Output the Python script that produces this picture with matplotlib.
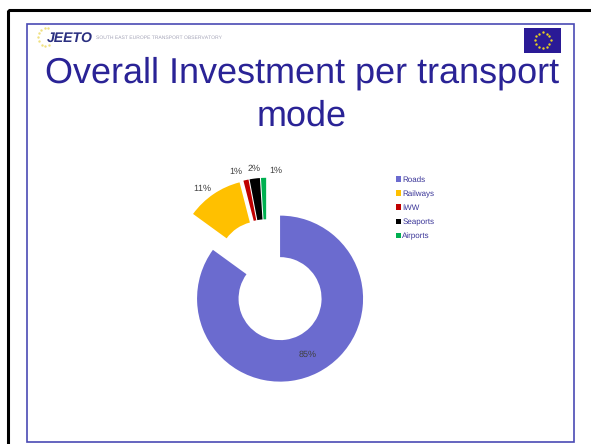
import numpy as np
import matplotlib
matplotlib.use("Agg")
import matplotlib.pyplot as plt
from matplotlib.patches import Rectangle

plt.rcParams['font.family'] = ['Liberation Sans', 'DejaVu Sans']
plt.rcParams['text.hinting'] = 'no_hinting'
plt.rcParams['text.hinting_factor'] = 1

# chart values
modes = ["Roads", "Railways", "IWW", "Seaports", "Airports"]
shares = [85, 11, 1, 2, 1]
share_labels = ["85%", "11%", "1%", "2%", "1%"]
colors = ["#6B6BCF", "#FFC000", "#C00000", "#000000", "#00B050"]
explode = [0.36, 0.135, 0.135, 0.135, 0.135]

title_lines = "Overall Investment per transport\nmode"
text_blue = "#2A2396"

W, H = 591, 444
fig = plt.figure(figsize=(W / 100, H / 100), dpi=100)

# page background in pixel coordinates
bg = fig.add_axes([0, 0, 1, 1])
bg.set_xlim(0, W)
bg.set_ylim(H, 0)
bg.axis("off")

# black outer frame, runs off the right and bottom edge
bg.add_patch(Rectangle((8, 10), W, H, fill=False, ec="black", lw=2.2))
# blue slide frame
bg.add_patch(Rectangle((26.5, 24), 547, 418, fill=False, ec="#4A4AB4", lw=1.2))

# logo
bg.text(47, 38, "JEETO", fontsize=10, fontweight="bold", style="italic", color="#2A2F80", va="center")
bg.text(96, 38, "SOUTH EAST EUROPE TRANSPORT OBSERVATORY", fontsize=3.3, color="#A5A5B8", va="center")
t = np.linspace(1.2, 5.0, 9)
bg.scatter(46 + 8 * np.cos(t), 37 + 9 * np.sin(t), s=3, color="#F0E080", lw=0)

# EU flag
bg.add_patch(Rectangle((524, 28), 37, 25, color="#2A1A96", lw=0))
a = np.arange(12) * np.pi / 6
bg.scatter(542.5 + 8 * np.cos(a), 40.5 + 8 * np.sin(a), s=3, color="#E8D020", lw=0)

bg.text(302, 95, title_lines, fontsize=25.8, color=text_blue, ha="center", va="center", linespacing=1.35)

# donut, 83 px outer radius, slices exploded around (266.5, 272)
half = 150
ax = fig.add_axes([(266.5 - half) / W, 1 - (272 + half) / H, 2 * half / W, 2 * half / H])
wedges, _ = ax.pie(shares, colors=colors, explode=explode, startangle=90, counterclock=False,
                   radius=1, wedgeprops={"width": 0.5, "linewidth": 0})
ax.set_xlim(-half / 83, half / 83)
ax.set_ylim(-half / 83, half / 83)
ax.set_aspect("equal")
ax.axis("off")

# percent labels, pixel positions
label_x = [308, 202, 236, 254, 276]
label_y = [355, 189, 172, 169, 171]
for x, y, lab in zip(label_x, label_y, share_labels):
    fig.text(x / W, 1 - y / H, lab, fontsize=6.2, color="#404040", ha="center", va="center")

# legend
handles = [Rectangle((0, 0), 1, 1, color=c, lw=0) for c in colors]
fig.legend(handles, modes, loc="upper left", bbox_to_anchor=(396 / W, 1 - 176 / H), frameon=False,
           fontsize=5.8, labelcolor="#3A3598", handlelength=0.68, handleheight=0.68,
           handletextpad=0.12, labelspacing=0.83, borderpad=0, borderaxespad=0)

fig.savefig("out.png", dpi=100)
